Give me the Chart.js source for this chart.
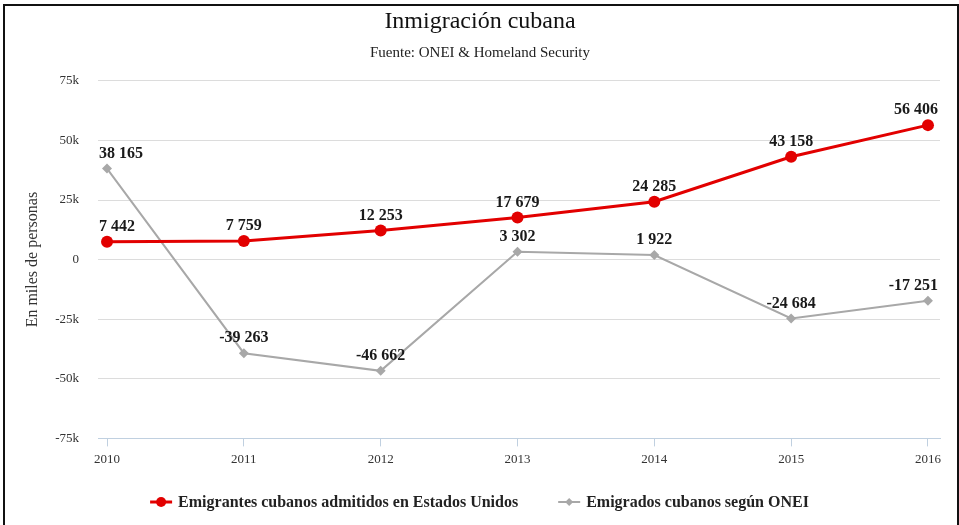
<!doctype html>
<html lang="es">
  <head>
    <meta charset="utf-8">
    <title>Inmigración cubana</title>
    <style>
      html, body { margin: 0; padding: 0; background: #fff; }
      .wrap { position: relative; width: 959px; height: 525px; overflow: hidden; }
      .frame {
        position: absolute; left: 3px; top: 4px; width: 952px; height: 540px;
        border: 2px solid #111; pointer-events: none;
      }
    </style>
  </head>
  <body>
    <div class="wrap">
      <canvas id="myChart" width="959" height="525"></canvas>
      <div class="frame"></div>
    </div>
    <script src="https://cdn.jsdelivr.net/npm/chart.js/dist/chart.umd.min.js"></script>
    <script>
    // data
    const years = [2010, 2011, 2012, 2013, 2014, 2015, 2016];
    const admitidosEEUU = [7442, 7759, 12253, 17679, 24285, 43158, 56406];
    const emigradosONEI = [38165, -39263, -46662, 3302, 1922, -24684, -17251];
    const yTicks = [-75000, -50000, -25000, 0, 25000, 50000, 75000];

    const serif = "'Liberation Serif', 'DejaVu Serif', serif";
    const red = '#e20000';
    const grey = '#a8a8a8';

    function fmt(n) {
      const s = Math.abs(n).toLocaleString('en-US').replace(/,/g, ' ');
      return (n < 0 ? '-' : '') + s;
    }

    // value labels above each point, kept inside the plot area
    const valueLabels = {
      id: 'valueLabels',
      afterDatasetsDraw(chart) {
        const ctx = chart.ctx;
        const area = chart.chartArea;
        ctx.save();
        ctx.font = 'bold 16px ' + serif;
        ctx.fillStyle = '#1a1a1a';
        ctx.textAlign = 'center';
        ctx.textBaseline = 'middle';
        chart.data.datasets.forEach((ds, i) => {
          chart.getDatasetMeta(i).data.forEach((pt, j) => {
            const txt = fmt(ds.data[j].y);
            const half = ctx.measureText(txt).width / 2;
            let x = pt.x;
            if (x - half < area.left) x = area.left + half + 1;
            if (x + half > area.right) x = area.right - half - 2;
            ctx.fillText(txt, x, pt.y - 15);
          });
        });
        ctx.restore();
      }
    };

    // legend in highcharts style: line + marker
    const bottomLegend = {
      id: 'bottomLegend',
      afterDraw(chart) {
        const ctx = chart.ctx;
        const y = 502;
        ctx.save();
        ctx.font = 'bold 16px ' + serif;
        ctx.textBaseline = 'middle';
        const items = chart.data.datasets.map(ds => ({
          text: ds.label, color: ds.borderColor, style: ds.pointStyle,
          w: ctx.measureText(ds.label).width
        }));
        const sym = 22, gap = 6, between = 40;
        let total = 0;
        items.forEach((it, i) => { total += sym + gap + it.w + (i ? between : 0); });
        let x = chart.width / 2 - total / 2;
        items.forEach((it, i) => {
          if (i) x += between;
          ctx.strokeStyle = it.color;
          ctx.fillStyle = it.color;
          ctx.lineWidth = it.style === 'circle' ? 3 : 2;
          ctx.beginPath();
          ctx.moveTo(x, y); ctx.lineTo(x + sym, y);
          ctx.stroke();
          ctx.beginPath();
          if (it.style === 'circle') {
            ctx.arc(x + sym / 2, y, 5, 0, Math.PI * 2);
          } else {
            ctx.moveTo(x + sym / 2, y - 4); ctx.lineTo(x + sym / 2 + 4, y);
            ctx.lineTo(x + sym / 2, y + 4); ctx.lineTo(x + sym / 2 - 4, y);
            ctx.closePath();
          }
          ctx.fill();
          x += sym + gap;
          ctx.fillStyle = '#222';
          ctx.fillText(it.text, x, y + 1);
          x += it.w;
        });
        ctx.restore();
      }
    };

    const data = {
      datasets: [{
        label: 'Emigrantes cubanos admitidos en Estados Unidos',
        data: years.map((x, i) => ({ x, y: admitidosEEUU[i] })),
        borderColor: red,
        backgroundColor: red,
        borderWidth: 3,
        pointStyle: 'circle',
        pointRadius: 6,
        pointBorderWidth: 0,
        tension: 0
      }, {
        label: 'Emigrados cubanos según ONEI',
        data: years.map((x, i) => ({ x, y: emigradosONEI[i] })),
        borderColor: grey,
        backgroundColor: grey,
        borderWidth: 2,
        pointStyle: 'rectRot',
        pointRadius: 5,
        pointBorderWidth: 0,
        tension: 0
      }]
    };

    const config = {
      type: 'line',
      data,
      options: {
        responsive: false,
        animation: false,
        layout: { padding: { left: 20, right: 19, top: 0, bottom: 53 } },
        plugins: {
          legend: { display: false },
          tooltip: { enabled: false },
          title: {
            display: true,
            text: 'Inmigración cubana',
            color: '#111',
            font: { family: serif, size: 24, weight: 'normal' },
            padding: { top: 7, bottom: 3 }
          },
          subtitle: {
            display: true,
            text: 'Fuente: ONEI & Homeland Security',
            color: '#222',
            font: { family: serif, size: 15 },
            padding: { top: 5, bottom: 19 }
          }
        },
        scales: {
          x: {
            type: 'linear',
            min: 2009.934,
            max: 2016.088,
            afterBuildTicks(axis) { axis.ticks = years.map(v => ({ value: v })); },
            ticks: {
              color: '#333',
              font: { family: serif, size: 13 },
              padding: 5,
              callback: v => String(v)
            },
            grid: { drawOnChartArea: false, tickLength: 8, color: '#c0d0e0' },
            border: { color: '#c0d0e0', width: 1 }
          },
          y: {
            min: -75000,
            max: 75000,
            afterBuildTicks(axis) { axis.ticks = yTicks.map(v => ({ value: v })); },
            afterFit(axis) { axis.width = 78; },
            ticks: {
              color: '#333',
              font: { family: serif, size: 13 },
              padding: 19,
              callback: v => v === 0 ? '0' : (v / 1000) + 'k'
            },
            grid: { color: '#dcdcdc', drawTicks: false },
            border: { display: false },
            title: {
              display: true,
              text: 'En miles de personas',
              color: '#333',
              font: { family: serif, size: 16 },
              padding: { top: 3, bottom: 0 }
            }
          }
        }
      },
      plugins: [valueLabels, bottomLegend]
    };

    const myChart = new Chart(document.getElementById('myChart'), config);
    </script>
  </body>
</html>
